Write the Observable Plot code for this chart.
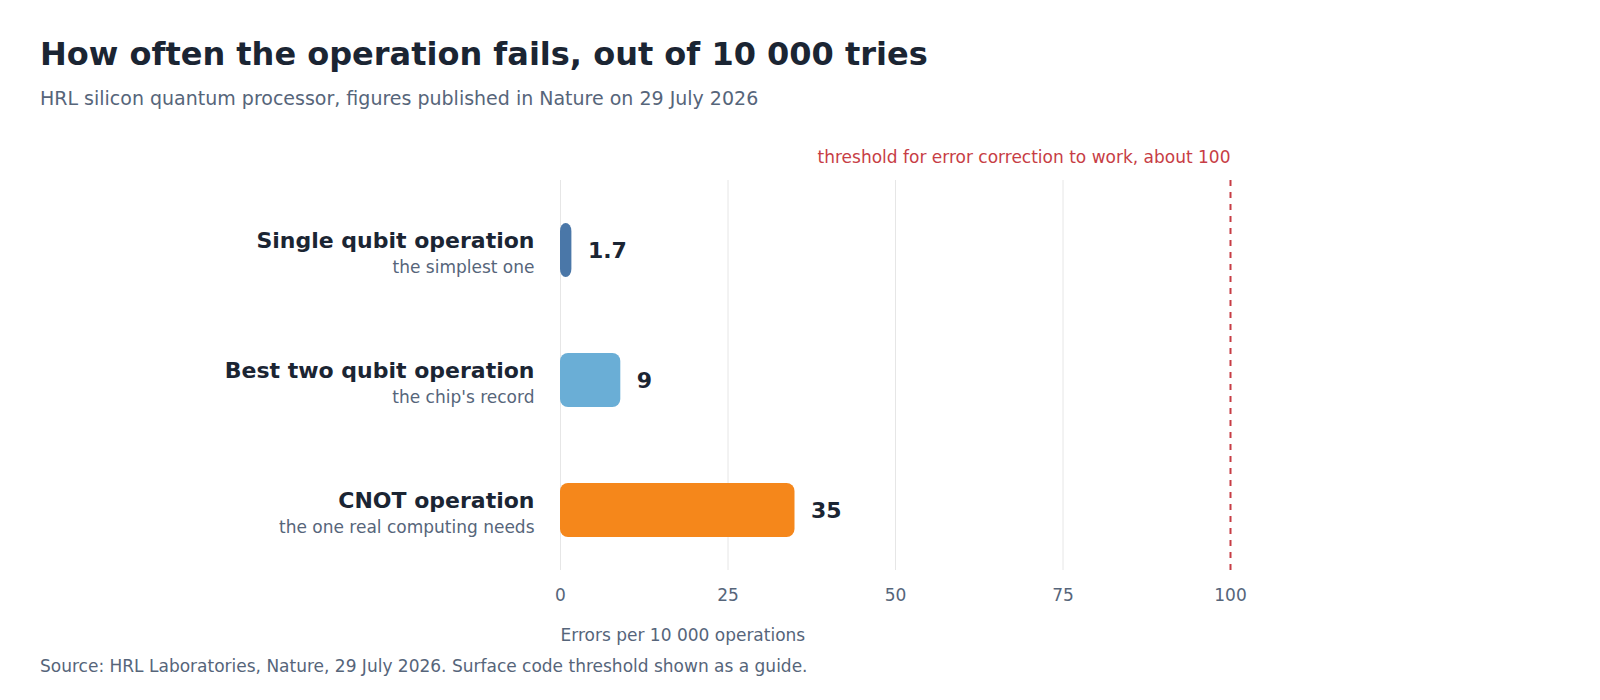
<!DOCTYPE html>
<html>
<head>
<meta charset="utf-8">
<script src="https://cdn.jsdelivr.net/npm/d3@7"></script>
<script src="https://cdn.jsdelivr.net/npm/@observablehq/plot@0.6"></script>
<style>
  html, body { margin: 0; padding: 0; background: #ffffff; }
  body { width: 1600px; height: 700px; position: relative; overflow: hidden; font-family: "DejaVu Sans", sans-serif; }
  .title { position: absolute; left: 40px; top: 35px; font-size: 32px; line-height: 38px; font-weight: bold; color: #1b2533; white-space: nowrap; }
  .subtitle { position: absolute; left: 40px; top: 86px; font-size: 19px; line-height: 24px; color: #56657a; white-space: nowrap; }
  .source { position: absolute; left: 40px; top: 656px; font-size: 17px; line-height: 20px; color: #56657a; white-space: nowrap; }
  #chart { position: absolute; left: 0; top: 110px; }
</style>
</head>
<body>
<div class="title">How often the operation fails, out of 10 000 tries</div>
<div class="subtitle">HRL silicon quantum processor, figures published in Nature on 29 July 2026</div>
<div id="chart"></div>
<div class="source">Source: HRL Laboratories, Nature, 29 July 2026. Surface code threshold shown as a guide.</div>
<script>
const operations = ["Single qubit operation", "Best two qubit operation", "CNOT operation"];
const notes = ["the simplest one", "the chip's record", "the one real computing needs"];
const errorsPer10k = [1.7, 9, 35];
const valueLabels = ["1.7", "9", "35"];
const barColors = ["#4a77a8", "#6aaed6", "#f5871b"];
const xTicks = [0, 25, 50, 75, 100];
const threshold = [100];
const thresholdLabel = "threshold for error correction to work, about 100";
const xLabel = "Errors per 10 000 operations";

const rows = operations.map((name, i) => ({name, note: notes[i], value: errorsPer10k[i], label: valueLabels[i], color: barColors[i]}));
const noteOf = new Map(rows.map(d => [d.name, d.note]));

const dark = "#1b2533";
const gray = "#56657a";
const red = "#c73d45";

const chart = Plot.plot({
  width: 1600,
  height: 550,
  marginLeft: 560,
  marginRight: 370,
  marginTop: 70,
  marginBottom: 90,
  style: { fontFamily: "DejaVu Sans, sans-serif", background: "transparent", overflow: "visible" },
  x: { domain: [0, 100], label: null },
  y: { domain: operations, range: [75, 465], paddingInner: 0.585, paddingOuter: 0.2925, label: null },
  marks: [
    Plot.gridX(xTicks.filter(t => t < 100), { stroke: "#e6e6e6", strokeOpacity: 1, strokeWidth: 1 }),
    Plot.barX(rows, { x: "value", y: "name", fill: "color", rx: 8 }),
    Plot.ruleX(threshold, { stroke: red, strokeWidth: 2, strokeDasharray: "6,6" }),
    Plot.text(threshold, { x: d => d, frameAnchor: "top", lineAnchor: "middle", text: () => thresholdLabel, textAnchor: "end", dy: -23, fontSize: 17, fill: red }),
    Plot.text(rows, { x: "value", y: "name", text: "label", textAnchor: "start", dx: 16, fontSize: 22, fontWeight: "bold", fill: dark }),
    Plot.axisY({ tickSize: 0, tickPadding: 26, fontSize: 22, fontWeight: "bold", fill: dark, dy: -10, label: null }),
    Plot.axisY({ tickSize: 0, tickPadding: 26, fontSize: 17, fill: gray, dy: 17, tickFormat: d => noteOf.get(d), label: null }),
    Plot.axisX({ ticks: xTicks, tickSize: 0, tickPadding: 18, fontSize: 17, fill: gray, label: null }),
    Plot.text([xLabel], { frameAnchor: "bottom-left", lineAnchor: "middle", textAnchor: "start", dy: 65.5, fontSize: 17, fill: gray })
  ]
});
document.getElementById("chart").appendChild(chart);
</script>
</body>
</html>
